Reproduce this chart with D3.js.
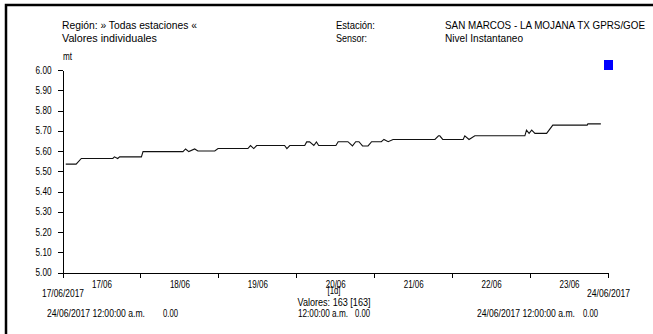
<!DOCTYPE html>
<html>
<head>
<meta charset="utf-8">
<script src="https://cdn.jsdelivr.net/npm/d3@7"></script>
<style>
  body { margin: 0; background: #fff; }
  svg text { font-family: "Liberation Sans", Arial, sans-serif; font-size: 11px; fill: #000; }
  .axis path, .axis line { stroke: #000; stroke-width: 1; shape-rendering: crispEdges; }
</style>
</head>
<body>
<svg id="chart" width="653" height="334"></svg>
<script>
// hours since 17/06/2017 00:00 and water level (mt)
var horas = [1, 4.2, 5.8, 15.5, 16, 17, 17.6, 24.3, 24.8, 37.1,
  37.9, 38.9, 40.7, 41.7, 46.9, 47.9, 57.1, 57.9, 58.9, 59.8,
  68.4, 69.1, 70, 74.6, 75.2, 76.1, 77.4, 78.2, 78.9, 84.2,
  84.9, 87.9, 89.3, 90.3, 91.3, 92.4, 94.1, 95.2, 98.2, 99,
  100.3, 101.8, 114.7, 115.8, 116.2, 117.1, 123.4, 123.9, 125.2, 127,
  142.4, 142.9, 143.7, 144.5, 145.5, 149.1, 151, 161.6, 161.8, 165.8];
var nivel = [5.535, 5.535, 5.563, 5.563, 5.571, 5.563, 5.571, 5.571, 5.597, 5.597,
  5.61, 5.597, 5.61, 5.6, 5.6, 5.612, 5.612, 5.627, 5.612, 5.627,
  5.627, 5.612, 5.627, 5.627, 5.645, 5.645, 5.627, 5.645, 5.627, 5.627,
  5.646, 5.646, 5.625, 5.646, 5.646, 5.625, 5.625, 5.646, 5.646, 5.657,
  5.646, 5.657, 5.657, 5.675, 5.675, 5.657, 5.657, 5.675, 5.657, 5.675,
  5.675, 5.703, 5.687, 5.703, 5.687, 5.687, 5.728, 5.728, 5.734, 5.734];

var yTicks = [5.0, 5.1, 5.2, 5.3, 5.4, 5.5, 5.6, 5.7, 5.8, 5.9, 6.0];
var dias = ["17/06", "18/06", "19/06", "20/06", "21/06", "22/06", "23/06"];

var inicio = new Date(2017, 5, 17, 0, 0);
var fin = new Date(2017, 5, 24, 0, 0);

var svg = d3.select("#chart");

// squeeze text to a narrow look
function ajustar(sel, ancho) {
    sel.attr("textLength", ancho).attr("lengthAdjust", "spacingAndGlyphs");
    return sel;
}
function estrechar(sel, k) {
    sel.each(function () {
        var w = this.getComputedTextLength();
        d3.select(this).attr("textLength", w * k).attr("lengthAdjust", "spacingAndGlyphs");
    });
}

// frame
svg.append("path")
    .attr("d", "M6,340 L6,5 L660,5")
    .attr("fill", "none")
    .attr("stroke", "#000")
    .attr("stroke-width", 2.5);

var x = d3.scaleTime().domain([inicio, fin]).range([62.5, 608]);
var y = d3.scaleLinear().domain([5.0, 6.0]).range([272.5, 70]);

// header texts
var head = svg.append("g");
ajustar(head.append("text").attr("x", 62).attr("y", 29).text("Región: » Todas estaciones «"), 135);
ajustar(head.append("text").attr("x", 62).attr("y", 42).text("Valores individuales"), 95);
ajustar(head.append("text").attr("x", 336).attr("y", 29).text("Estación:"), 39);
ajustar(head.append("text").attr("x", 336).attr("y", 42).text("Sensor:"), 31);
ajustar(head.append("text").attr("x", 445).attr("y", 29).text("SAN MARCOS - LA MOJANA TX GPRS/GOE"), 200);
ajustar(head.append("text").attr("x", 445).attr("y", 42).text("Nivel Instantaneo"), 78);
ajustar(head.append("text").attr("x", 63).attr("y", 60).style("font-size", "10px").text("mt"), 9);

// legend marker
svg.append("rect")
    .attr("x", 604).attr("y", 60).attr("width", 9).attr("height", 10)
    .attr("fill", "#0000ff");

// y axis
svg.append("g")
    .attr("class", "axis")
    .attr("transform", "translate(62.5,0)")
    .call(d3.axisLeft(y).tickValues(yTicks).tickSize(5).tickSizeOuter(0).tickPadding(6)
        .tickFormat(d3.format(".2f")))
    .call(function (g) {
        g.selectAll("text").style("font-size", "10px");
        estrechar(g.selectAll("text"), 0.82);
    });

// x axis (day boundaries)
svg.append("g")
    .attr("class", "axis")
    .attr("transform", "translate(0,272.5)")
    .call(d3.axisBottom(x).ticks(d3.timeDay.every(1)).tickSize(5).tickSizeOuter(0).tickFormat(""));

// day labels at midday
var mediodia = dias.map(function (d, i) { return d3.timeHour.offset(inicio, 24 * i + 12); });
var labX = svg.append("g")
    .attr("transform", "translate(0,272.5)")
    .call(d3.axisBottom(x).tickValues(mediodia).tickSize(0).tickPadding(8)
        .tickFormat(function (d, i) { return dias[i]; }));
labX.select(".domain").remove();
labX.selectAll("text").style("font-size", "10px");
estrechar(labX.selectAll("text"), 0.8);

// series
var puntos = horas.map(function (h, i) {
    return { t: d3.timeMinute.offset(inicio, Math.round(h * 60)), v: nivel[i] };
});
var linea = d3.line()
    .x(function (d) { return x(d.t); })
    .y(function (d) { return y(d.v); });
svg.append("path")
    .datum(puntos)
    .attr("d", linea)
    .attr("fill", "none")
    .attr("stroke", "#111")
    .attr("stroke-width", 1.1);

// footer texts
var pie = svg.append("g").style("font-size", "10px");
ajustar(pie.append("text").attr("x", 42).attr("y", 297).text("17/06/2017"), 42);
ajustar(pie.append("text").attr("x", 630).attr("y", 297).attr("text-anchor", "end").text("24/06/2017"), 43);
ajustar(pie.append("text").attr("x", 334).attr("y", 294).attr("text-anchor", "middle").text("[1d]"), 13);
ajustar(pie.append("text").attr("x", 334).attr("y", 306).attr("text-anchor", "middle").text("Valores: 163 [163]"), 73);
ajustar(pie.append("text").attr("x", 47).attr("y", 317).text("24/06/2017 12:00:00 a.m."), 98);
ajustar(pie.append("text").attr("x", 178).attr("y", 317).attr("text-anchor", "end").text("0.00"), 15);
ajustar(pie.append("text").attr("x", 298).attr("y", 317).text("12:00:00 a.m."), 50);
ajustar(pie.append("text").attr("x", 370).attr("y", 317).attr("text-anchor", "end").text("0.00"), 15);
ajustar(pie.append("text").attr("x", 477).attr("y", 317).text("24/06/2017 12:00:00 a.m."), 98);
ajustar(pie.append("text").attr("x", 598).attr("y", 317).attr("text-anchor", "end").text("0.00"), 15);
</script>
</body>
</html>
